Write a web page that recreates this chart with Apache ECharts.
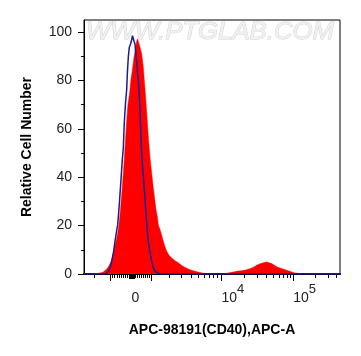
<!DOCTYPE html>
<html><head><meta charset="utf-8">
<script src="https://cdn.jsdelivr.net/npm/echarts@6/dist/echarts.min.js"></script>
<style>html,body{margin:0;padding:0;background:#fff}#c{width:361px;height:356px}</style>
</head><body><div id="c"></div>
<script>
// x values are display channels (0-1024) of the biexponential APC-A scale
const redX = [0,44,64,76,84,92,100,106,110.8,116,122,128,134,140,146,150.8,156,161.2,166,171.2,176,182,188,194,200,206,210,214,218,224,230.8,237.2,244,250,254,258,264,270,276,282,288,294,297.2,304,310,317.2,324,330.8,340,350.8,364,377.2,390,404,424,444,464,484,504,528,544,557.2,576,597.2,616,637.2,650,664,678,690.8,704,717.2,730.8,740,750.8,764,777.2,790,804,818,830.8,844,864,884,1024];
const redY = [0,0.1,0.4,0.7,1.4,2.2,3.4,4.7,5.9,8,10.9,13.4,16.3,20.4,26.6,32.9,39.9,47.4,55.7,64,70.3,74.3,80.5,84.7,89.6,93,95.9,97.2,96.8,93.8,90.9,85.5,76.4,68.1,61.9,55.7,48.2,42.4,36.6,31.6,26.6,23.3,20.4,18.4,16.3,13.5,11.3,9.4,7.8,6.6,5.5,4.6,3.6,2.7,1.8,1.1,0.6,0.2,0.1,0,0,0.1,0.4,0.8,1.2,1.4,1.8,2.2,2.8,3.6,4.2,4.6,5.0,4.7,4.3,3.4,2.7,2.3,1.8,1.3,0.8,0.4,0.1,0,0];
const blueX = [0,76,88,97.2,104,110.8,118,124,130,134.8,140,144,148,153.2,157.2,161.2,166,170.8,173.2,177.2,181.2,186,190,194,197.2,200.8,204,208,210.8,214,217.2,221.2,225.2,230.8,236,242,246.8,252,257.2,264,270.8,276,284,292,304,1024];
const blueY = [0,0,0.1,1.1,2.5,5.2,9,13.5,17.5,20.4,27,33,39,47.3,52,62.6,70.6,76.4,82.6,89.6,93.7,95,96.5,98.5,99.2,96,95,90,88.1,83,80.5,74,64,49.4,42,34,26.6,19.2,13.5,8.8,5.2,3,1.1,0.3,0,0];

const xMajorTicks = [106,270.8,550,837.2];
const xZeroTick = [190];
const xMinorTicks = [40,114.4,122.8,131.2,139.6,148,156.4,164.8,173.2,181.6,198.1,206.2,214.2,222.3,230.4,238.5,246.6,254.6,262.7,340,390.8,429.2,458.8,481.2,501.2,517.2,532,640,692,730,758,780,798,814,826,926,978,1008];
const xLabelValues = [190,550,837.2];
const xLabelBase = ['0','10','10'];
const xLabelSup = ['','4','5'];
const yMajorTicks = [0,20,40,60,80,100];
const yMinorTicks = [10,30,50,70,90];

const FONT = '"Liberation Sans", Arial, Helvetica, sans-serif';
const chart = echarts.init(document.getElementById('c'), null, {renderer: 'canvas'});

function baseX(extra) {
  return Object.assign({
    type: 'value', min: 0, max: 1024, position: 'bottom',
    splitLine: {show: false}, axisLabel: {show: false},
    axisLine: {show: false, onZero: false}
  }, extra);
}
function baseY(extra) {
  return Object.assign({
    type: 'value', min: 0, max: 105, position: 'left',
    splitLine: {show: false}, axisLabel: {show: false},
    axisLine: {show: false, onZero: false}
  }, extra);
}

const option = {
  animation: false,
  backgroundColor: '#fff',
  grid: {left: 84, right: 21, top: 20, bottom: 82, show: true, borderColor: '#000', borderWidth: 1, backgroundColor: 'transparent'},
  graphic: [{
    type: 'text', x: 86, y: 21, scaleX: 1.12, z: 1, silent: true,
    style: {text: 'WWW.PTGLAB.COM', font: 'italic 23px ' + FONT, fill: '#f1f1f1', stroke: '#d2d2d2', lineWidth: 0.9, verticalAlign: 'top'}
  }],
  xAxis: [
    baseX({
      axisLine: {show: true, onZero: false, lineStyle: {color: '#000', width: 2}},
      axisTick: {show: true, customValues: xMajorTicks, length: 7, lineStyle: {color: '#000', width: 1}},
      axisLabel: {
        show: true, customValues: xLabelValues, align: 'left', margin: 9,
        formatter: function (v) {
          const i = xLabelValues.indexOf(v);
          if (i < 0) return '';
          return '{b|' + xLabelBase[i] + '}' + (xLabelSup[i] ? '{s|' + xLabelSup[i] + '}' : '');
        },
        rich: {
          b: {fontSize: 14, lineHeight: 22, verticalAlign: 'bottom', color: '#222', fontFamily: FONT},
          s: {fontSize: 13, lineHeight: 14, verticalAlign: 'top', color: '#222', fontFamily: FONT}
        }
      },
      name: 'APC-98191(CD40),APC-A', nameLocation: 'middle', nameGap: 49,
      nameTextStyle: {fontSize: 14, fontWeight: 'bold', color: '#000', fontFamily: FONT}
    }),
    baseX({axisTick: {show: true, customValues: xMinorTicks, length: 4, lineStyle: {color: '#000', width: 1}}}),
    baseX({axisTick: {show: true, customValues: xZeroTick, length: 5, lineStyle: {color: '#000', width: 6}}})
  ],
  yAxis: [
    baseY({
      axisLine: {show: true, onZero: false, lineStyle: {color: '#000', width: 1}},
      axisTick: {show: true, customValues: yMajorTicks, length: 6, lineStyle: {color: '#000', width: 1}},
      axisLabel: {show: true, customValues: yMajorTicks, margin: 12, fontSize: 14, color: '#222', fontFamily: FONT},
      name: 'Relative Cell Number', nameLocation: 'middle', nameGap: 50,
      nameTextStyle: {fontSize: 14, fontWeight: 'bold', color: '#000', fontFamily: FONT}
    }),
    baseY({axisTick: {show: true, customValues: yMinorTicks, length: 3, lineStyle: {color: '#000', width: 1}}})
  ],
  series: [
    {
      name: 'CD40', type: 'line', xAxisIndex: 0, yAxisIndex: 0, symbol: 'none', z: 2,
      data: redX.map((x, i) => [x, redY[i]]),
      lineStyle: {color: '#ff0000', width: 0.5},
      areaStyle: {color: '#ff0000', opacity: 1}
    },
    {
      name: 'Isotype', type: 'line', xAxisIndex: 0, yAxisIndex: 0, symbol: 'none', z: 3,
      data: blueX.map((x, i) => [x, blueY[i]]),
      lineStyle: {color: '#1c1c96', width: 1.5}
    }
  ]
};
chart.setOption(option);
</script>
</body></html>
